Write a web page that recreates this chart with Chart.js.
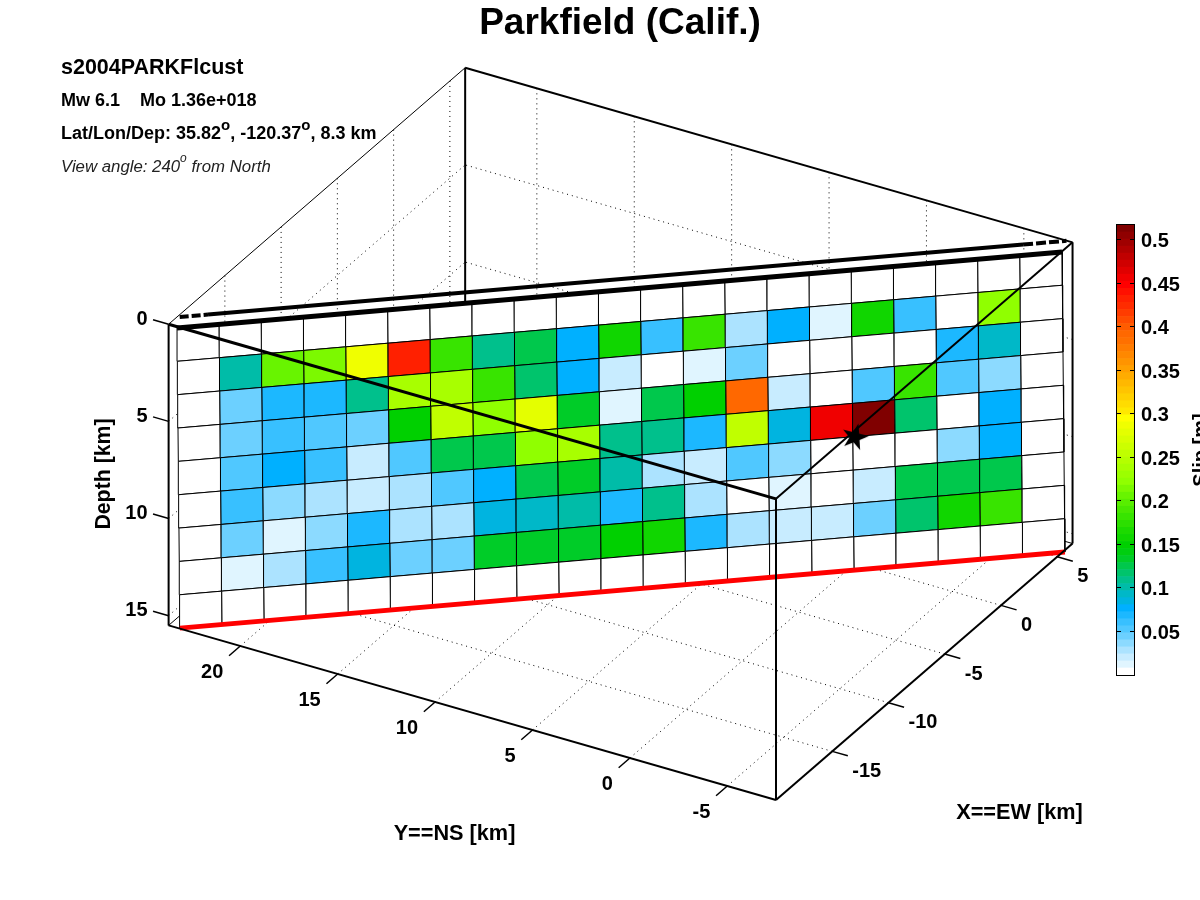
<!DOCTYPE html>
<html>
<head>
<meta charset="utf-8">
<title>Parkfield (Calif.)</title>
<script src="https://cdn.jsdelivr.net/npm/chart.js@4"></script>
<style>
  html, body { margin: 0; padding: 0; background: #fff; overflow: hidden; }
  #plot { position: absolute; left: 0; top: 0; }
  #bar { position: absolute; left: 1100px; top: 0; }
</style>
</head>
<body>
<canvas id="plot" width="1200" height="900"></canvas>
<canvas id="bar" width="100" height="900"></canvas>
<script>
// slip on the fault, one row per depth step, 21 patches along strike [m]
var slipRows = [
  [0,0,0,0,0,0,0,0,0,0,0,0,0,0,0,0,0,0,0,0,0],
  [0,.101,.206,.214,.287,.432,.182,.109,.125,.077,.155,.061,.182,.028,.077,.012,.155,.061,0,.222,0],
  [0,.044,.069,.069,.109,.238,.238,.182,.117,.077,.020,.004,.012,.044,0,0,0,0,.069,.093,0],
  [0,.044,.061,.053,.044,.149,.255,.222,.279,.133,.012,.125,.149,.392,.020,0,.053,.182,.053,.036,0],
  [0,.053,.077,.061,.020,.053,.125,.125,.222,.238,.109,.109,.069,.255,.085,.456,.513,.117,0,.077,0],
  [0,.061,.036,.028,.020,.028,.053,.077,.125,.133,.101,.028,.020,.053,.036,0,0,0,.036,.077,0],
  [0,.044,.012,.036,.069,.028,.028,.085,.093,.101,.069,.109,.028,0,.012,0,.020,.125,.125,.125,0],
  [0,.012,.028,.061,.085,.044,.044,.133,.133,.133,.149,.155,.069,.028,.020,.020,.044,.117,.155,.182,0],
  [0,0,0,0,0,0,0,0,0,0,0,0,0,0,0,0,0,0,0,0,0]
];

var xTicks = [-15, -10, -5, 0, 5];
var yTicks = [-5, 0, 5, 10, 15, 20];
var depthTicks = [0, 5, 10, 15];
var barTicks = [0.05, 0.1, 0.15, 0.2, 0.25, 0.3, 0.35, 0.4, 0.45, 0.5];
var slipMax = 0.517;

// box limits in km
var xLim = [-20, 6.36];
var yLim = [-7.5, 23.68];
var depthLim = [0, 15.5];

// fault ends at the top edge, and the shift of the bottom edge (dip), in km
var faultStart = [-20.1, 23.19];
var faultEnd = [5.39, -7.52];
var faultDip = [-0.61, -0.5];
var faultDepth = 15;
var traceDepth = -0.55;
var hypocenter = [0, 0, 9];

var colors = [
  '#FFFFFF','#E0F5FF','#C8ECFF','#ACE3FF','#8CDAFF','#6CD0FF','#50C8FF','#38C0FF',
  '#1CB8FF','#00B0FF','#00B4E0','#00B8C8','#00BCA8','#00C08C','#00C46C','#00C84C',
  '#00CC28','#00CE10','#00D000','#10D600','#1CDA00','#2CDF00','#38E400','#48E800',
  '#58EE00','#68F400','#7CF900','#90FF00','#9CFF00','#A8FF00','#B4FF00','#C0FF00',
  '#CCFF00','#D8FF00','#E4FF00','#F0FF00','#FFFF00','#FFE800','#FFDC00','#FFD000',
  '#FFC400','#FFB800','#FFAC00','#FFA000','#FF9400','#FF8800','#FF7C00','#FF7000',
  '#FF6800','#FF5C00','#FF4C00','#FF3C00','#FF2C00','#FF2000','#FF1000','#FF0000',
  '#F00000','#E00000','#D00000','#C00000','#B00000','#A00000','#900000','#800000'
];

var FONT = '"Liberation Sans", Arial, sans-serif';

// km -> page position, the fixed view of the 3d box
function project(x, y, d){
  var u = x - xLim[0], v = y - yLim[0];
  return {
    x: 776 + 11.25 * u - 19.48 * v,
    y: 800 - 9.73 * u - 5.6 * v - 19.43 * (depthLim[1] - d)
  };
}

function faultPoint(s, t){
  return project(
    faultStart[0] + (faultEnd[0] - faultStart[0]) * s + faultDip[0] * t,
    faultStart[1] + (faultEnd[1] - faultStart[1]) * s + faultDip[1] * t,
    faultDepth * t
  );
}

function slipColor(v){
  return colors[Math.min(colors.length - 1, Math.floor(v / slipMax * colors.length))];
}

var datasets = [];
function line(points, color, width, dash){
  datasets.push({
    data: points, showLine: true, borderColor: color, borderWidth: width,
    borderDash: dash || [], pointRadius: 0, tension: 0, fill: false,
    borderCapStyle: 'butt', clip: false
  });
}
function dotted(a, b){ line([a, b], '#000', 1, [1, 4]); }

// back walls and floor grid
xTicks.forEach(function(x){
  dotted(project(x, yLim[1], 0), project(x, yLim[1], depthLim[1]));
  dotted(project(x, yLim[0], depthLim[1]), project(x, yLim[1], depthLim[1]));
});
yTicks.forEach(function(y){
  dotted(project(xLim[1], y, 0), project(xLim[1], y, depthLim[1]));
  dotted(project(xLim[0], y, depthLim[1]), project(xLim[1], y, depthLim[1]));
});
depthTicks.slice(1).forEach(function(d){
  dotted(project(xLim[0], yLim[1], d), project(xLim[1], yLim[1], d));
  dotted(project(xLim[1], yLim[0], d), project(xLim[1], yLim[1], d));
});

// back edges of the box
var back = project(xLim[1], yLim[1], 0), backLow = project(xLim[1], yLim[1], depthLim[1]);
var left = project(xLim[0], yLim[1], 0), leftLow = project(xLim[0], yLim[1], depthLim[1]);
var right = project(xLim[1], yLim[0], 0), rightLow = project(xLim[1], yLim[0], depthLim[1]);
var front = project(xLim[0], yLim[0], 0), frontLow = project(xLim[0], yLim[0], depthLim[1]);
line([left, back], '#000', 1);
line([back, right], '#000', 2);
line([back, backLow], '#000', 2);
line([left, leftLow], '#000', 2);
line([right, rightLow], '#000', 2);
line([leftLow, backLow], '#000', 1);
line([rightLow, backLow], '#000', 1);

// fault patches
var nRows = slipRows.length, nCols = slipRows[0].length;
slipRows.forEach(function(row, j){
  row.forEach(function(v, i){
    var a = faultPoint(i / nCols, j / nRows), b = faultPoint((i + 1) / nCols, j / nRows);
    var c = faultPoint((i + 1) / nCols, (j + 1) / nRows), e = faultPoint(i / nCols, (j + 1) / nRows);
    datasets.push({
      data: [a, b, c, e, a], showLine: true, borderColor: '#000', borderWidth: 1,
      backgroundColor: slipColor(v), fill: 'shape', pointRadius: 0, tension: 0, clip: false
    });
  });
});

// fault top, surface trace and bottom
line([faultPoint(0, 0), faultPoint(1, 0)], '#000', 5);
function tracePoint(s){
  return project(
    faultStart[0] + (faultEnd[0] - faultStart[0]) * s,
    faultStart[1] + (faultEnd[1] - faultStart[1]) * s,
    traceDepth
  );
}
line([tracePoint(0.003), tracePoint(0.035)], '#000', 4, [9, 3]);
line([tracePoint(0.035), tracePoint(0.956)], '#000', 4);
line([tracePoint(0.956), tracePoint(1.005)], '#000', 4, [10, 3]);
line([faultPoint(0, 1), faultPoint(1, 1)], '#FF0000', 5);

// front edges and axes
line([leftLow, frontLow], '#000', 2);
line([frontLow, rightLow], '#000', 2);
line([front, frontLow], '#000', 2);

// tick marks
xTicks.forEach(function(x){ line([project(x, yLim[0], depthLim[1]), project(x, yLim[0] - 0.8, depthLim[1])], '#000', 1.5); });
yTicks.forEach(function(y){ line([project(xLim[0], y, depthLim[1]), project(xLim[0] - 1, y, depthLim[1])], '#000', 1.5); });
depthTicks.forEach(function(d){ line([project(xLim[0], yLim[1], d), project(xLim[0], yLim[1] + 0.8, d)], '#000', 1.5); });

// hypocenter star
var star = document.createElement('canvas');
star.width = 28; star.height = 28;
(function(){
  var g = star.getContext('2d');
  g.fillStyle = '#000';
  g.beginPath();
  for (var k = 0; k < 10; k++) {
    var r = k % 2 ? 5.5 : 14, ang = -Math.PI / 2 + 0.25 + k * Math.PI / 5;
    g[k ? 'lineTo' : 'moveTo'](14 + r * Math.cos(ang), 14 + r * Math.sin(ang));
  }
  g.closePath();
  g.fill();
})();
datasets.push({
  data: [project(hypocenter[0], hypocenter[1], hypocenter[2])],
  showLine: false, pointStyle: star, pointRadius: 14, clip: false
});

// box edges in front of the fault
line([left, front], '#000', 3);
line([front, right], '#000', 2);

// first in the list is painted first
datasets.forEach(function(ds, i){ ds.order = datasets.length - i; });

function text(ctx, s, x, y, font, align, color){
  ctx.font = font;
  ctx.textAlign = align || 'left';
  ctx.textBaseline = 'middle';
  ctx.fillStyle = color || '#000';
  ctx.fillText(s, x, y + 1);
}

// runs of text with raised "o" degree marks
function textParts(ctx, parts, x, y, font, supFont, color){
  parts.forEach(function(p){
    var sup = p === 'o';
    ctx.font = sup ? supFont : font;
    text(ctx, p, x, sup ? y - 8 : y, sup ? supFont : font, 'left', color);
    x += ctx.measureText(p).width;
  });
}

var labelsPlugin = {
  id: 'labels',
  afterDraw: function(chart){
    var ctx = chart.ctx, sx = chart.scales.x, sy = chart.scales.y;
    function px(p){ return { x: sx.getPixelForValue(p.x), y: sy.getPixelForValue(p.y) }; }
    ctx.save();
    var big = 'bold 20px ' + FONT;
    text(ctx, 'Parkfield (Calif.)', 620, 23, 'bold 37px ' + FONT, 'center');
    text(ctx, 's2004PARKFlcust', 61, 67, 'bold 21.5px ' + FONT);
    text(ctx, 'Mw 6.1    Mo 1.36e+018', 61, 100, 'bold 18px ' + FONT);
    textParts(ctx, ['Lat/Lon/Dep: 35.82', 'o', ', -120.37', 'o', ', 8.3 km'], 61, 133,
      'bold 18px ' + FONT, 'bold 15px ' + FONT);
    textParts(ctx, ['View angle: 240', 'o', ' from North'], 61, 166,
      'italic 16.8px ' + FONT, 'italic 12px ' + FONT, '#222');

    depthTicks.forEach(function(d){
      var p = px(project(xLim[0], yLim[1], d));
      text(ctx, String(d), p.x - 21, p.y - 6, big, 'right');
    });
    yTicks.forEach(function(y){
      var p = px(project(xLim[0], y, depthLim[1]));
      text(ctx, String(y), p.x - 17, p.y + 25, big, 'right');
    });
    xTicks.forEach(function(x){
      var p = px(project(x, yLim[0], depthLim[1]));
      text(ctx, String(x), p.x + 20, p.y + 19, big, 'left');
    });

    text(ctx, 'Y==NS [km]', 454.5, 833, 'bold 21.7px ' + FONT, 'center');
    text(ctx, 'X==EW [km]', 1019.5, 812, 'bold 21.7px ' + FONT, 'center');
    ctx.translate(103, 474);
    ctx.rotate(-Math.PI / 2);
    text(ctx, 'Depth [km]', 0, 0, 'bold 21.3px ' + FONT, 'center');
    ctx.restore();
  }
};

new Chart(document.getElementById('plot'), {
  type: 'scatter',
  data: { datasets: datasets },
  options: {
    responsive: false,
    animation: false,
    events: [],
    layout: { padding: 0, autoPadding: false },
    plugins: { legend: { display: false }, tooltip: { enabled: false }, title: { display: false } },
    scales: {
      x: { type: 'linear', min: 0, max: 1200, display: false },
      y: { type: 'linear', min: 0, max: 900, reverse: true, display: false }
    }
  },
  plugins: [labelsPlugin]
});

// colour bar, a single stacked bar with one piece per colour
var barFrame = {
  id: 'barFrame',
  afterDraw: function(chart){
    var ctx = chart.ctx, a = chart.chartArea;
    ctx.save();
    ctx.strokeStyle = '#000';
    ctx.lineWidth = 1;
    ctx.strokeRect(a.left - 0.5, a.top - 0.5, a.right - a.left + 1, a.bottom - a.top + 1);
    ctx.translate(107, 450);
    ctx.rotate(-Math.PI / 2);
    ctx.font = 'bold 20px ' + FONT;
    ctx.textAlign = 'center';
    ctx.textBaseline = 'alphabetic';
    ctx.fillStyle = '#000';
    ctx.fillText('Slip [m]', 0, 0);
    ctx.restore();
  }
};

new Chart(document.getElementById('bar'), {
  type: 'bar',
  data: {
    labels: ['slip'],
    datasets: colors.map(function(c){
      return { data: [slipMax / colors.length], backgroundColor: c, barPercentage: 1, categoryPercentage: 1 };
    })
  },
  options: {
    responsive: false,
    animation: false,
    events: [],
    layout: { padding: { left: 17, top: 225, bottom: 225, right: 0 } },
    plugins: { legend: { display: false }, tooltip: { enabled: false } },
    scales: {
      x: { stacked: true, display: false },
      y: {
        stacked: true,
        position: 'right',
        min: 0,
        max: slipMax,
        afterFit: function(scale){ scale.width = 66; },
        afterBuildTicks: function(scale){
          scale.ticks = barTicks.map(function(v){ return { value: v }; });
        },
        grid: { color: '#000', z: 1, drawTicks: false },
        border: { display: false, dash: [4, 9, 4, 0] },
        ticks: {
          padding: 7,
          labelOffset: 2,
          color: '#000',
          autoSkip: false,
          font: { family: FONT, size: 20, weight: 'bold' },
          callback: function(v){ return String(v); }
        }
      }
    }
  },
  plugins: [barFrame]
});
</script>
</body>
</html>
